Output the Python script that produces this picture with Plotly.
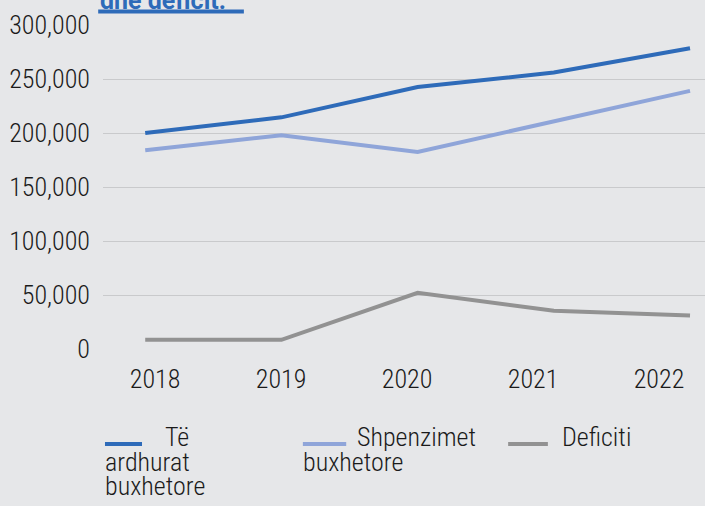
import plotly.graph_objects as go

# data
years = ["2018", "2019", "2020", "2021", "2022"]
te_ardhurat = [200000, 214500, 242500, 256000, 278500]
shpenzimet = [184000, 198000, 182500, 211000, 239000]
deficiti = [8500, 8500, 52000, 35500, 31000]

series_names = ["Të ardhurat buxhetore", "Shpenzimet buxhetore", "Deficiti"]
y_ticks = [0, 50000, 100000, 150000, 200000, 250000, 300000]

colors = ["#2e6bb9", "#8fa5d9", "#929292"]
bg = "#e6e7e9"
font_fam = "Roboto Condensed, Liberation Sans Narrow, DejaVu Sans Condensed, sans-serif"

fig = go.Figure()
for name, vals, col in zip(series_names, [te_ardhurat, shpenzimet, deficiti], colors):
    fig.add_trace(go.Scatter(x=years, y=vals, name=name, mode="lines",
                             line=dict(color=col, width=4)))

# empty trace on the second x axis, only so that its year labels get drawn
fig.add_trace(go.Scatter(x=years, y=[None] * len(years), xaxis="x2",
                         mode="lines", hoverinfo="skip", showlegend=False))

fig.update_layout(
    width=705, height=506,
    paper_bgcolor=bg, plot_bgcolor=bg,
    margin=dict(l=103, r=0, t=25, b=157),
    showlegend=False,
    font=dict(family=font_fam, size=26, color="#1a1a1a", weight=300),
    xaxis=dict(type="category", range=[-0.31, 4.11], showgrid=False,
               showline=False, zeroline=False, ticks="", showticklabels=False),
    # year labels in the source sit on a slightly tighter spacing than the points
    xaxis2=dict(type="category", overlaying="x", anchor="y", side="bottom",
                range=[-0.413, 4.365], showgrid=False,
                showline=False, zeroline=False, ticks="", ticklabelstandoff=12),
    yaxis=dict(range=[0, 300000], tickvals=y_ticks, tickformat=",",
               showgrid=True, gridcolor="#c9cacc", gridwidth=1,
               zeroline=False, showline=False, ticks="", ticklabelstandoff=12),
)

# cut-off title at the top, with its underline
fig.add_annotation(text="<b>dhe deficit.</b>", xref="paper", yref="paper",
                   x=-0.009, y=1.026, xanchor="left", yanchor="bottom",
                   showarrow=False,
                   font=dict(family="Roboto, sans-serif", size=25,
                             color="#2e6bb9", weight=700))
fig.add_shape(type="line", xref="paper", yref="paper",
              x0=-0.008, x1=0.234, y0=1.042, y1=1.042,
              line=dict(color="#2e6bb9", width=4))

# legend drawn by hand so wrapped text can run under the symbol (like the source)
leg = [
    (0.0033, 0.0648, 0.0997, ["Të", "ardhurat", "buxhetore"]),
    (0.332, 0.404, 0.419, ["Shpenzimet", "buxhetore"]),
    (0.673, 0.739, 0.759, ["Deficiti"]),
]
line_h = 24.5 / 324
for (x0, x1, xt, lines), col in zip(leg, colors):
    fig.add_shape(type="line", xref="paper", yref="paper",
                  x0=x0, x1=x1, y0=-0.293, y1=-0.293,
                  line=dict(color=col, width=4))
    for i, t in enumerate(lines):
        fig.add_annotation(text=t, xref="paper", yref="paper",
                           x=xt if i == 0 else x0 - 0.0033,
                           y=-0.273 - i * line_h,
                           xanchor="left", yanchor="middle",
                           showarrow=False, font=dict(size=26, weight=300))

fig.write_html("out.html", config={"displayModeBar": False},
               post_script="document.body.style.margin='0';")
